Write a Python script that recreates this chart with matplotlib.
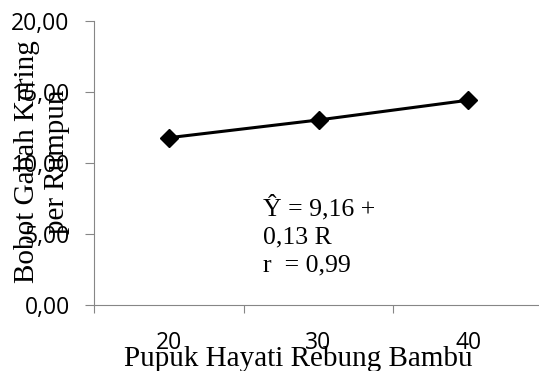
import matplotlib
matplotlib.use("Agg")
import matplotlib.pyplot as plt

categories = ["20", "30", "40"]
bobot = [11.78, 13.03, 14.42]
y_ticks = [0, 5, 10, 15, 20]
y_labels = ["0,00", "5,00", "10,00", "15,00", "20,00"]

grey = "#868686"
serif = "Liberation Serif"
sans = "Open Sans"

fig = plt.figure(figsize=(5.39, 3.71), dpi=100)
ax = fig.add_axes([94 / 539, 66 / 371, 449 / 539, 284 / 371])

x = list(range(len(categories)))
ax.plot(x, bobot, color="black", linewidth=2.2, marker="D", markersize=9,
        clip_on=False, zorder=3)

ax.set_xlim(-0.5, len(categories) - 0.5)
ax.set_ylim(0, 20)

# y axis
ax.set_yticks(y_ticks)
ax.set_yticklabels(y_labels, fontfamily=sans, fontsize=16.5)
ax.tick_params(axis="y", direction="out", length=6.5, width=0.8, color=grey, pad=11)

# x axis: tick marks between categories, labels at centres
ax.set_xticks([i - 0.5 for i in range(len(categories) + 1)])
ax.set_xticklabels([])
ax.set_xticks(x, minor=True)
ax.set_xticklabels(categories, minor=True, fontfamily=sans, fontsize=16.5)
ax.tick_params(axis="x", which="major", direction="out", length=6, width=0.8, color=grey)
ax.tick_params(axis="x", which="minor", length=0, pad=18.5)

for side in ["top", "right"]:
    ax.spines[side].set_visible(False)
for side in ["left", "bottom"]:
    ax.spines[side].set_color(grey)
    ax.spines[side].set_linewidth(0.8)

fig.text(298 / 539, 5 / 371, "Pupuk Hayati Rebung Bambu", family=serif,
         fontsize=21, ha="center", va="baseline")
fig.text(42 / 539, (371 - 162) / 371, "Bobot Gabah Kering\nper Rumpun",
         family=serif, fontsize=21, rotation=90, ha="center", va="center",
         multialignment="center")

ax.text(0.63, 7.75, "Ŷ = 9,16 +\n0,13 R\nr  = 0,99", family=serif, fontsize=18.5,
        ha="left", va="top", linespacing=1.35)

fig.savefig("out.png", dpi=100)
